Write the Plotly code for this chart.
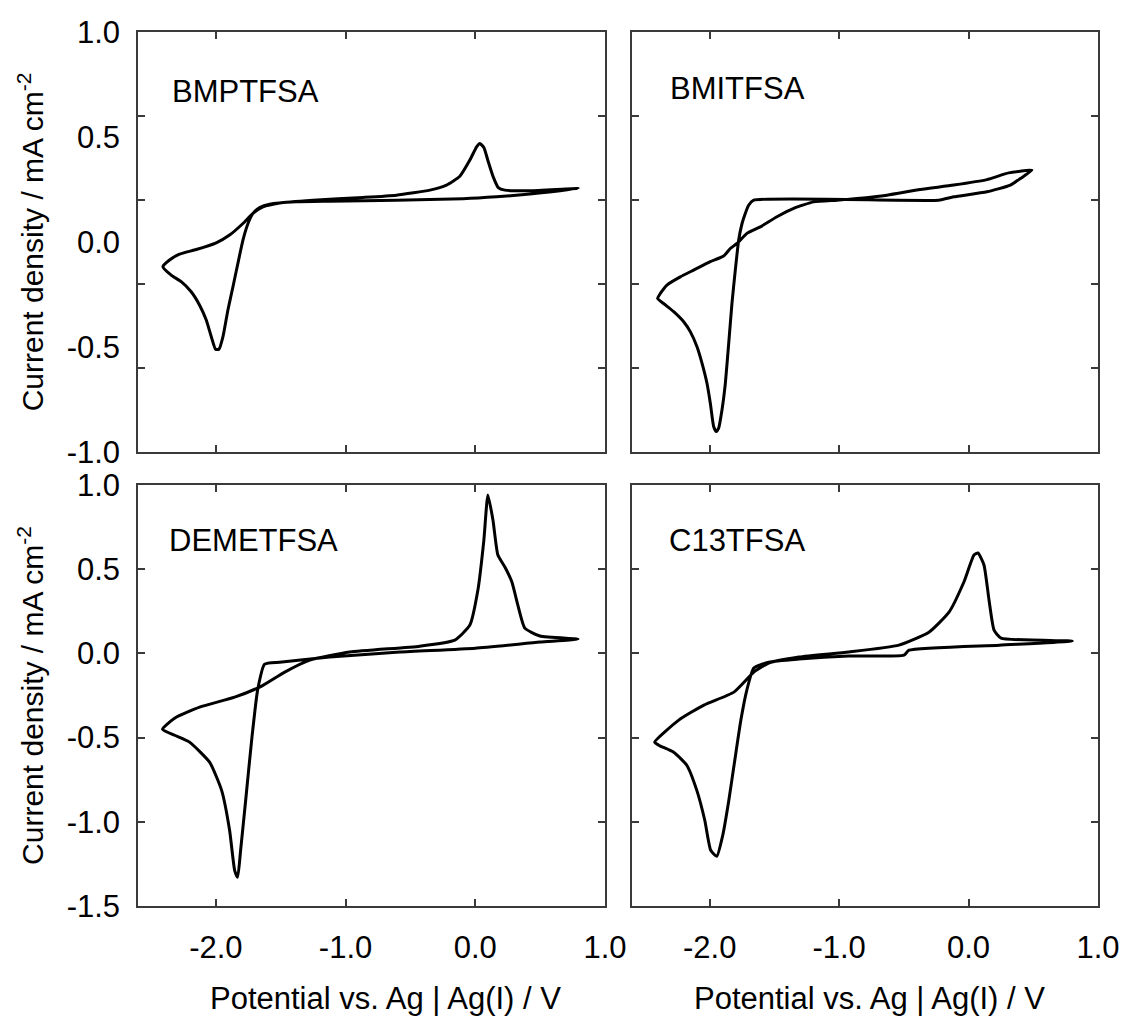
import plotly.graph_objects as go

# ---------------- data (potential V, current density mA cm^-2) ----------------
bmp_x = [0.794, 0.421, 0.164, -0.093, -0.608, -1.122, -1.379, -1.585, -1.662, -1.714, -1.752, -1.791,
         -1.830, -1.868, -1.907, -1.945, -1.976, -2.002, -2.035, -2.074, -2.125, -2.190, -2.267, -2.344, -2.408,
         -2.357, -2.280, -2.151, -1.997, -1.894, -1.791, -1.714, -1.637, -1.508, -1.251, -0.865, -0.608,
         -0.350, -0.222, -0.119, -0.042, 0.010, 0.035, 0.066, 0.100, 0.138, 0.177, 0.228, 0.421, 0.794]
bmp_y = [0.255, 0.228, 0.215, 0.206, 0.199, 0.194, 0.191, 0.180, 0.164, 0.136, 0.088, 0.009,
         -0.102, -0.213, -0.324, -0.451, -0.511, -0.511, -0.451, -0.372, -0.301, -0.237, -0.189, -0.158, -0.118,
         -0.086, -0.058, -0.036, -0.004, 0.033, 0.088, 0.136, 0.167, 0.186, 0.199, 0.212, 0.223,
         0.247, 0.271, 0.313, 0.390, 0.453, 0.469, 0.450, 0.382, 0.310, 0.259, 0.247, 0.244, 0.255]

bmi_x = [0.490, 0.400, 0.323, 0.142, -0.115, -0.231, -1.660, -1.699, -1.725, -1.750, -1.776, -1.802,
         -1.828, -1.853, -1.879, -1.905, -1.931, -1.949, -1.969, -1.995, -2.021, -2.059, -2.098, -2.150,
         -2.201, -2.278, -2.356, -2.402,
         -2.381, -2.330, -2.227, -2.124, -1.995, -1.892, -1.841, -1.789, -1.712, -1.609, -1.480, -1.351,
         -1.197, -1.017, -0.862, -0.630, -0.373, -0.115, 0.142, 0.310, 0.490]
bmi_y = [0.342, 0.302, 0.271, 0.239, 0.215, 0.199, 0.199, 0.175, 0.136, 0.088, 0.009, -0.134,
         -0.293, -0.483, -0.673, -0.800, -0.887, -0.903, -0.880, -0.768, -0.673, -0.578, -0.499, -0.427,
         -0.380, -0.332, -0.293, -0.269,
         -0.245, -0.205, -0.166, -0.134, -0.094, -0.067, -0.031, -0.007, 0.041, 0.072, 0.120, 0.160,
         0.191, 0.199, 0.207, 0.223, 0.250, 0.271, 0.297, 0.329, 0.342]

deme_x = [0.792, 0.498, 0.000, -0.582, -1.122, -1.508, -1.624, -1.678, -1.724, -1.770, -1.809, -1.832,
          -1.855, -1.894, -1.956, -2.048, -2.203, -2.318, -2.411,
          -2.318, -2.125, -1.855, -1.647, -1.469, -1.276, -0.968, -0.428, -0.158, -0.042, 0.020, 0.066,
          0.097, 0.136, 0.174, 0.228, 0.282, 0.328, 0.382, 0.498, 0.792]
deme_y = [0.085, 0.067, 0.031, 0.008, -0.022, -0.052, -0.064, -0.218, -0.515, -0.872, -1.169, -1.329,
          -1.288, -1.050, -0.812, -0.646, -0.527, -0.486, -0.450,
          -0.385, -0.319, -0.260, -0.194, -0.111, -0.040, 0.008, 0.043, 0.079, 0.168, 0.376, 0.673,
          0.941, 0.792, 0.584, 0.513, 0.424, 0.287, 0.150, 0.103, 0.085]

c13_x = [0.801, 0.236, -0.460, -0.499, -0.925, -1.311, -1.543, -1.659, -1.713, -1.759, -1.806, -1.852,
         -1.899, -1.945, -1.992, -2.038, -2.100, -2.177, -2.278, -2.394, -2.425,
         -2.239, -2.045, -1.813, -1.659, -1.543, -1.311, -0.925, -0.538, -0.306, -0.151, -0.036, 0.042,
         0.073, 0.119, 0.158, 0.197, 0.251, 0.801]
c13_y = [0.073, 0.049, 0.019, -0.010, -0.016, -0.034, -0.052, -0.087, -0.218, -0.396, -0.634, -0.872,
         -1.080, -1.205, -1.169, -0.991, -0.812, -0.664, -0.587, -0.545, -0.527,
         -0.396, -0.307, -0.230, -0.111, -0.058, -0.022, 0.008, 0.049, 0.126, 0.245, 0.424, 0.584,
         0.596, 0.525, 0.317, 0.138, 0.091, 0.073]

panel_names = ["BMPTFSA", "BMITFSA", "DEMETFSA", "C13TFSA"]

x_ticks = [-2.0, -1.0, 0.0, 1.0]
x_ticktext = ["-2.0", "-1.0", "0.0", "1.0"]
top_y_labels = [-1.0, -0.5, 0.0, 0.5, 1.0]
top_y_ticktext = ["-1.0", "-0.5", "0.0", "0.5", "1.0"]
top_y_marks = [-0.6, -0.2, 0.2, 0.6]
bot_y_ticks = [-1.5, -1.0, -0.5, 0.0, 0.5, 1.0]
bot_y_ticktext = ["-1.5", "-1.0", "-0.5", "0.0", "0.5", "1.0"]

x_title = "Potential vs. Ag | Ag(I) / V"
y_title = "Current density / mA cm<sup>-2</sup>"

# ---------------- figure ----------------
FONT = "Liberation Sans, Arial, sans-serif"
TICKFONT = dict(family=FONT, size=31, color="black")
YTITLEFONT = dict(family=FONT, size=30, color="black")
XTITLEFONT = dict(family=FONT, size=31, color="black")
LINECOL = "#3a3a3a"

fig = go.Figure()
series = [(bmp_x, bmp_y, "x", "y"), (bmi_x, bmi_y, "x2", "y2"),
          (deme_x, deme_y, "x3", "y3"), (c13_x, c13_y, "x4", "y4")]
for (xs, ys, xa, ya), name in zip(series, panel_names):
    fig.add_trace(go.Scatter(x=xs, y=ys, xaxis=xa, yaxis=ya, mode="lines", name=name,
                             line=dict(color="black", width=3, shape="spline", smoothing=0.5),
                             showlegend=False))

xd_left = [0.0, 0.4865]
xd_right = [0.5146, 1.0]
yd_top = [0.5195, 1.0]
yd_bot = [0.0, 0.4817]

common = dict(showline=True, mirror="ticks", linecolor=LINECOL, linewidth=1.5,
              ticks="inside", ticklen=7, tickwidth=1.5, tickcolor=LINECOL,
              showgrid=False, zeroline=False, tickfont=TICKFONT, automargin=False)

def xaxis(domain, anchor, labels):
    d = dict(common)
    d.update(domain=domain, anchor=anchor, range=[-2.6, 1.0], tickmode="array",
             tickvals=x_ticks, ticktext=x_ticktext, showticklabels=labels,
             ticklabelstandoff=13)
    return d

def yaxis_top(domain, anchor, labels):
    d = dict(common)
    d.update(domain=domain, anchor=anchor, range=[-1.0, 1.0], tickmode="array",
             tickvals=top_y_labels, ticktext=top_y_ticktext, ticklen=0,
             showticklabels=labels, ticklabelstandoff=10,
             minor=dict(tickmode="array", tickvals=top_y_marks, ticks="inside",
                        ticklen=7, tickwidth=1.5, tickcolor=LINECOL, showgrid=False))
    if labels:
        d.update(title=dict(text=y_title, font=YTITLEFONT, standoff=14))
    return d

def yaxis_bot(domain, anchor, labels):
    d = dict(common)
    d.update(domain=domain, anchor=anchor, range=[-1.5, 1.0], tickmode="array",
             tickvals=bot_y_ticks, ticktext=bot_y_ticktext, showticklabels=labels,
             ticklabelstandoff=10)
    if labels:
        d.update(title=dict(text=y_title, font=YTITLEFONT, standoff=14))
    return d

fig.update_layout(
    xaxis=xaxis(xd_left, "y", False),
    yaxis=yaxis_top(yd_top, "x", True),
    xaxis2=xaxis(xd_right, "y2", False),
    yaxis2=yaxis_top(yd_top, "x2", False),
    xaxis3=xaxis(xd_left, "y3", True),
    yaxis3=yaxis_bot(yd_bot, "x3", True),
    xaxis4=xaxis(xd_right, "y4", True),
    yaxis4=yaxis_bot(yd_bot, "x4", False),
)

# x-axis titles (placed as annotations below each bottom panel)
for xa, ya, shift in [("x3", "y3", 14), ("x4", "y4", 4)]:
    fig.add_annotation(text=x_title, xref=f"{xa} domain", yref=f"{ya} domain", x=0.5, y=0,
                       xanchor="center", yanchor="middle", xshift=shift, yshift=-92,
                       showarrow=False, font=XTITLEFONT)

label_pos = [("x", "y", 0.0675, 0.859), ("x2", "y2", 0.078, 0.866),
             ("x3", "y3", 0.063, 0.867), ("x4", "y4", 0.0745, 0.869)]
for (xa, ya, px, py), name in zip(label_pos, panel_names):
    fig.add_annotation(text=name, xref=f"{xa} domain", yref=f"{ya} domain", x=px, y=py,
                       xanchor="left", yanchor="middle", showarrow=False,
                       font=dict(family=FONT, size=31, color="black"))

fig.update_layout(width=1123, height=1017, margin=dict(l=138, r=25, t=32, b=111, autoexpand=False),
                  paper_bgcolor="white", plot_bgcolor="white", showlegend=False)

fig.write_html("out.html")
